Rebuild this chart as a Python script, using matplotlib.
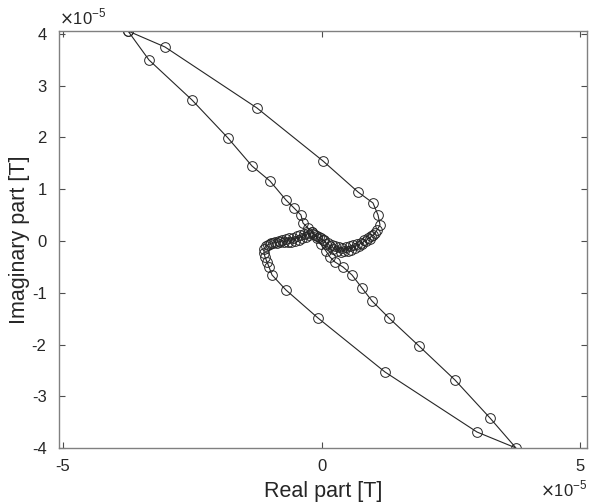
import numpy as np
import matplotlib.pyplot as plt
from matplotlib.ticker import FuncFormatter

plt.rcParams["font.family"] = ["Liberation Sans", "DejaVu Sans"]
plt.rcParams["axes.unicode_minus"] = False

# complex field over one period, in units of 1e-5 T
re_s = [
    -3.743, -3.027, -1.248, 0.029, 0.706, 0.996, 1.093, 1.132, 1.074,
    1.035, 1.000, 0.965, 0.930, 0.895, 0.860, 0.825, 0.790, 0.755, 0.720,
    0.685, 0.650, 0.615, 0.580, 0.545, 0.510, 0.475, 0.440, 0.405, 0.370,
    0.335, 0.300, 0.265, 0.230, 0.195, 0.160, 0.125, 0.090, 0.055, 0.020,
    -0.015, -0.050, -0.085, -0.120, -0.155, -0.190,
    -0.235, -0.270, -0.305, -0.340, -0.375, -0.410, -0.445, -0.480, -0.515, -0.550,
    -0.585, -0.620, -0.655, -0.690, -0.725, -0.760, -0.795, -0.830, -0.865, -0.900,
    -0.935, -0.970, -1.005, -1.040, -1.074,
    -1.112, -1.112, -1.093, -1.054, -1.015, -0.957, -0.687, -0.068, 1.228, 3.008, 3.762,
    3.259, 2.582, 1.886, 1.306, 0.977, 0.783, 0.590, 0.416, 0.261,
    0.164, 0.087, -0.010, -0.087, -0.184, -0.261, -0.358, -0.397, -0.532, -0.687,
    -0.996, -1.344, -1.809, -2.505, -3.337, -3.743,
]
im_s = [
    4.058, 3.749, 2.570, 1.546, 0.947, 0.734, 0.502, 0.309, 0.213,
    0.155, 0.110, 0.100, 0.045, 0.050, -0.005, 0.010, -0.055, -0.030, -0.095,
    -0.060, -0.135, -0.085, -0.165, -0.105, -0.190, -0.120, -0.200, -0.130, -0.205,
    -0.120, -0.185, -0.100, -0.150, -0.070, -0.105, -0.030, -0.050, 0.010, 0.010,
    0.050, 0.070, 0.090, 0.125, 0.140, 0.175,
    0.120, 0.160, 0.085, 0.130, 0.055, 0.110, 0.025, 0.090, 0.005, 0.065,
    -0.010, 0.050, -0.015, 0.035, -0.025, 0.020, -0.025, 0.005, -0.035, -0.010,
    -0.045, -0.040, -0.060, -0.075, -0.097,
    -0.155, -0.232, -0.309, -0.406, -0.502, -0.657, -0.947, -1.488, -2.531, -3.691, -4.000,
    -3.420, -2.686, -2.029, -1.488, -1.159, -0.908, -0.657, -0.502, -0.406,
    -0.309, -0.193, -0.058, 0.058, 0.174, 0.251, 0.348, 0.502, 0.638, 0.792,
    1.159, 1.449, 1.990, 2.725, 3.498, 4.058,
]
scale = 1e-5

x_ticks = [-5, 0, 5]
y_ticks = [-4, -3, -2, -1, 0, 1, 2, 3, 4]

fig = plt.figure(figsize=(5.89, 5.03), dpi=100)
ax = fig.add_axes([0.1002, 0.1093, 0.8964, 0.8291])

ax.plot(np.array(re_s) * scale, np.array(im_s) * scale, color="#262626", lw=0.8,
        marker="o", ms=7, mfc="none", mec="#262626", mew=0.7)

ax.set_xlim(-5.077 * scale, 5.135 * scale)
ax.set_ylim(-4.0 * scale, 4.058 * scale)
ax.set_xticks([t * scale for t in x_ticks])
ax.set_yticks([t * scale for t in y_ticks])
fmt = FuncFormatter(lambda v, pos: f"{v / scale:.0f}")
ax.xaxis.set_major_formatter(fmt)
ax.yaxis.set_major_formatter(fmt)

ax.tick_params(direction="in", length=4, width=0.8, color="#4d4d4d",
               labelsize=12, labelcolor="#262626", top=True, right=True)
ax.tick_params(axis="x", pad=8)
ax.tick_params(axis="y", pad=9)
for sp in ax.spines.values():
    sp.set_color("#808080")
    sp.set_linewidth(1.0)

ax.set_xlabel("Real part [T]", fontsize=15.5, color="#262626", labelpad=5)
ax.set_ylabel("Imaginary part [T]", fontsize=15.5, color="#262626", labelpad=1)

# exponent markers in the corners
ax.text(0.0, 1.008, r"$\times$10$^{\mathregular{-5}}$", transform=ax.transAxes,
        fontsize=12, color="#262626", ha="left", va="bottom")
ax.text(1.0, -0.075, r"$\times$10$^{\mathregular{-5}}$", transform=ax.transAxes,
        fontsize=12, color="#262626", ha="right", va="top")

fig.savefig("out.png", dpi=100)
